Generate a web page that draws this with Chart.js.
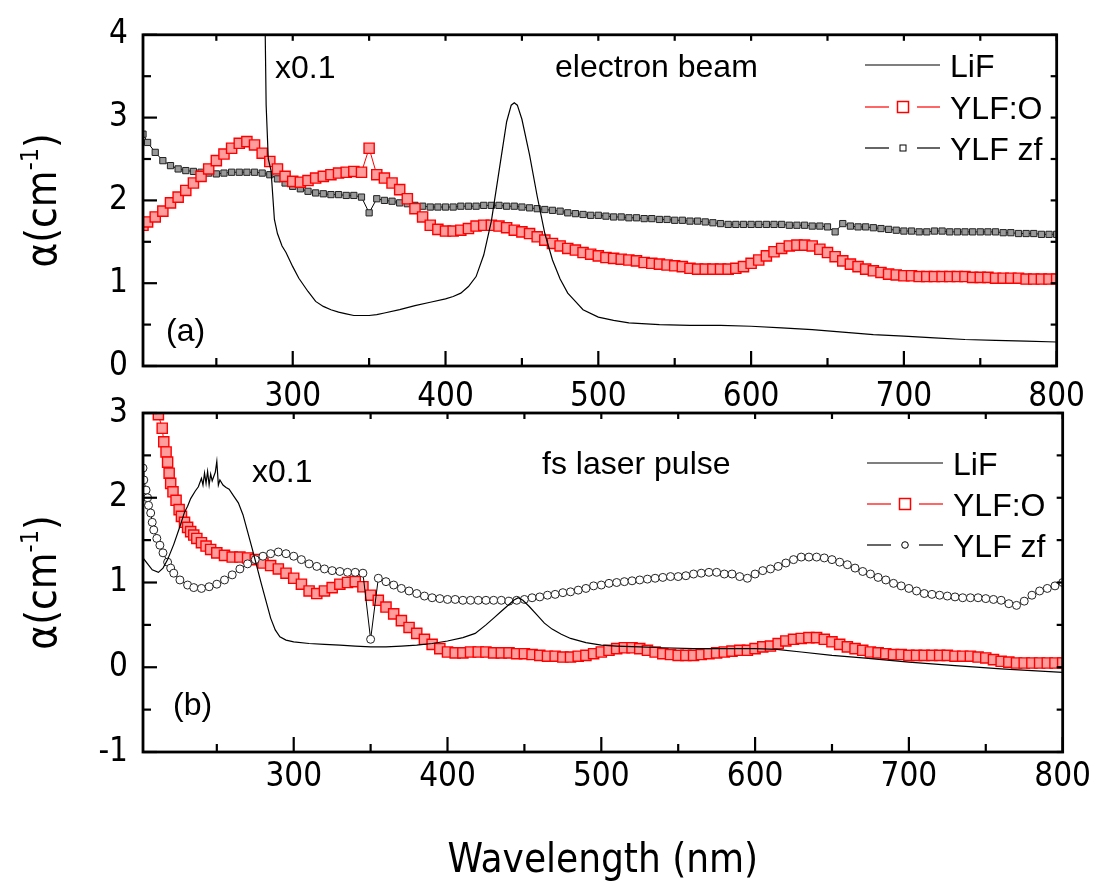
<!DOCTYPE html>
<html>
<head>
<meta charset="utf-8">
<script src="https://cdn.jsdelivr.net/npm/chart.js@4.4.1/dist/chart.umd.min.js"></script>
<style>
  body { margin: 0; background: #fff; }
  #wrap { position: relative; width: 1097px; height: 882px; }
  canvas { position: absolute; left: 0; top: 0; }
</style>
</head>
<body>
<div id="wrap">
  <canvas id="topChart" width="1097" height="882"></canvas>
  <canvas id="bottomChart" width="1097" height="882"></canvas>
</div>
<script>
// series names and axis ticks
const seriesNames = ['LiF', 'YLF:O', 'YLF zf'];
const xTicks = [300, 400, 500, 600, 700, 800];
const yTicksTop = [0, 1, 2, 3, 4];
const yTicksBottom = [-1, 0, 1, 2, 3];

// shared wavelength grid (nm)
const wl = [202,
  205,210,215,220,225,230,235,240,245,250,
  255,260,265,270,275,280,285,290,295,300,
  305,310,315,320,325,330,335,340,345,350,
  355,360,365,370,375,380,385,390,395,400,
  405,410,415,420,425,430,435,440,445,450,
  455,460,465,470,475,480,485,490,495,500,
  505,510,515,520,525,530,535,540,545,550,
  555,560,565,570,575,580,585,590,595,600,
  605,610,615,620,625,630,635,640,645,650,
  655,660,665,670,675,680,685,690,695,700,
  705,710,715,720,725,730,735,740,745,750,
  755,760,765,770,775,780,785,790,795,800];

// (a) electron beam
const topZfY = [2.80,
  2.70,2.58,2.48,2.42,2.38,2.36,2.35,2.34,2.33,2.32,
  2.33,2.34,2.34,2.34,2.34,2.33,2.31,2.26,2.21,2.17,
  2.14,2.11,2.09,2.08,2.07,2.07,2.06,2.06,2.04,1.85,
  2.02,2.00,1.99,1.97,1.96,1.94,1.93,1.92,1.92,1.92,
  1.92,1.93,1.93,1.93,1.94,1.94,1.94,1.93,1.93,1.92,
  1.91,1.90,1.89,1.88,1.87,1.85,1.84,1.83,1.82,1.82,
  1.81,1.80,1.80,1.79,1.79,1.78,1.78,1.77,1.77,1.76,
  1.76,1.75,1.75,1.74,1.73,1.72,1.71,1.71,1.71,1.71,
  1.71,1.71,1.71,1.71,1.70,1.70,1.70,1.69,1.69,1.68,
  1.62,1.72,1.69,1.68,1.68,1.67,1.66,1.65,1.64,1.63,
  1.63,1.62,1.62,1.63,1.63,1.62,1.62,1.62,1.62,1.62,
  1.62,1.62,1.61,1.61,1.60,1.60,1.60,1.59,1.59,1.59];

const topOY = [1.70,
  1.74,1.80,1.87,1.97,2.04,2.12,2.21,2.29,2.38,2.48,
  2.56,2.63,2.69,2.71,2.67,2.57,2.47,2.38,2.29,2.23,
  2.22,2.24,2.27,2.29,2.31,2.33,2.34,2.35,2.34,2.63,
  2.31,2.27,2.21,2.13,2.02,1.90,1.80,1.70,1.65,1.63,
  1.63,1.64,1.66,1.69,1.70,1.70,1.69,1.67,1.64,1.62,
  1.60,1.56,1.52,1.48,1.45,1.42,1.40,1.37,1.35,1.33,
  1.31,1.30,1.29,1.28,1.27,1.25,1.24,1.23,1.22,1.21,
  1.20,1.18,1.17,1.17,1.17,1.17,1.17,1.18,1.20,1.24,
  1.28,1.33,1.38,1.42,1.45,1.46,1.46,1.45,1.41,1.37,
  1.32,1.27,1.23,1.20,1.17,1.15,1.13,1.11,1.10,1.09,
  1.09,1.08,1.08,1.08,1.08,1.08,1.08,1.08,1.07,1.07,
  1.07,1.06,1.06,1.06,1.06,1.05,1.05,1.05,1.05,1.05];

const topLiFX = [281,282,282.6,284,285.8,288,290,293,295.6,300,
  304,310,315,320,325,330,335,340,345,350,
  355,360,370,380,390,400,405,410,415,420,
  425,430,435,440,443,445,447,450,455,460,
  465,470,475,480,485,490,500,510,520,540,
  560,580,600,620,640,660,680,700,720,740,
  760,780,800];
const topLiFY = [5.0,4.0,3.15,2.5,2.36,1.77,1.60,1.45,1.37,1.20,
  1.06,0.90,0.78,0.72,0.68,0.65,0.63,0.61,0.61,0.61,
  0.62,0.64,0.68,0.73,0.77,0.81,0.84,0.88,0.96,1.08,
  1.34,1.75,2.35,2.95,3.15,3.18,3.15,2.98,2.55,2.05,
  1.60,1.28,1.05,0.88,0.78,0.68,0.59,0.55,0.52,0.50,
  0.49,0.49,0.48,0.46,0.44,0.41,0.38,0.36,0.34,0.32,
  0.31,0.30,0.29];

// (b) fs laser pulse
const botOHeadX = [210,212,214.5,215.5,217,218,219,220,221.5,223.5,
  225.5,227,229,231,233,235,237,240,243,246];
const botOHeadY = [3.30,2.98,2.82,2.66,2.54,2.42,2.29,2.17,2.07,1.97,
  1.86,1.78,1.71,1.65,1.60,1.56,1.52,1.47,1.43,1.39];
const botOTailY = [
  1.35,1.32,1.30,1.30,1.29,1.27,1.23,1.20,1.16,1.11,
  1.05,0.98,0.90,0.87,0.90,0.94,0.98,1.00,1.01,0.95,
  0.85,0.79,0.71,0.63,0.55,0.47,0.40,0.33,0.27,0.22,
  0.18,0.17,0.17,0.18,0.18,0.18,0.17,0.17,0.17,0.16,
  0.16,0.15,0.14,0.13,0.13,0.12,0.12,0.13,0.14,0.16,
  0.18,0.20,0.22,0.23,0.23,0.22,0.20,0.18,0.16,0.15,
  0.14,0.14,0.14,0.15,0.16,0.17,0.18,0.19,0.20,0.20,
  0.22,0.24,0.25,0.28,0.31,0.33,0.34,0.35,0.35,0.33,
  0.30,0.27,0.24,0.22,0.20,0.18,0.17,0.16,0.15,0.15,
  0.14,0.14,0.14,0.14,0.14,0.14,0.13,0.13,0.13,0.12,
  0.11,0.09,0.07,0.06,0.05,0.05,0.05,0.05,0.05,0.05,
  0.05];

const botZfHeadX = [202,202.5,204,205,205.6,207,208,209,211,213,
  215,218,220,222,226,231];
const botZfHeadY = [2.35,2.21,2.09,2.00,1.91,1.82,1.71,1.62,1.52,1.44,
  1.35,1.24,1.17,1.11,1.03,0.97];
const botZfTailY = [
  0.94,0.93,0.95,0.98,1.03,1.09,1.16,1.22,1.27,1.31,
  1.34,1.36,1.34,1.31,1.27,1.22,1.19,1.16,1.14,1.13,
  1.12,1.12,1.11,0.33,1.05,1.01,0.97,0.93,0.90,0.87,
  0.84,0.82,0.81,0.80,0.80,0.79,0.79,0.79,0.79,0.79,
  0.79,0.78,0.79,0.80,0.82,0.83,0.85,0.86,0.88,0.89,
  0.91,0.93,0.96,0.97,0.99,1.00,1.01,1.02,1.03,1.04,
  1.05,1.06,1.07,1.07,1.08,1.10,1.11,1.12,1.12,1.10,
  1.10,1.07,1.05,1.10,1.14,1.16,1.19,1.23,1.27,1.30,
  1.30,1.30,1.29,1.27,1.24,1.21,1.17,1.13,1.10,1.06,
  1.03,0.99,0.96,0.93,0.90,0.87,0.86,0.85,0.84,0.83,
  0.82,0.82,0.82,0.81,0.80,0.79,0.75,0.73,0.78,0.85,
  0.90,0.93,0.96,1.00];

const botLiFX = [202,205,208,212,215,218,222,226,229,231,
  233,236,238,240,241,242,243,244,245,246,
  247,248,249,250,251,252,254,256,258,261,
  264,267,270,273,276,279,282,285,288,291,
  295,300,310,320,330,340,350,360,370,380,
  390,400,410,418,425,430,435,440,443,446,
  449,453,458,463,468,474,480,490,500,510,
  525,540,560,580,600,614,630,650,670,700,
  730,760,780,800];
const botLiFY = [1.29,1.22,1.15,1.12,1.17,1.27,1.45,1.66,1.83,1.90,
  1.99,2.08,2.13,2.23,2.15,2.29,2.17,2.31,2.15,2.28,
  2.20,2.25,2.30,2.43,2.15,2.21,2.15,2.12,2.10,2.02,
  1.94,1.80,1.60,1.40,1.19,0.98,0.78,0.58,0.44,0.36,
  0.32,0.30,0.28,0.27,0.26,0.25,0.24,0.24,0.25,0.26,
  0.28,0.31,0.35,0.40,0.50,0.58,0.66,0.74,0.79,0.82,
  0.79,0.72,0.62,0.52,0.45,0.39,0.34,0.29,0.26,0.25,
  0.24,0.23,0.22,0.22,0.22,0.21,0.18,0.14,0.11,0.06,
  0.02,-0.02,-0.04,-0.06];

const RED = '#ff0000';
const AREA_LEFT = 143, AREA_RIGHT = 1067;
const tickFont = { family: "'DejaVu Sans Condensed', 'DejaVu Sans', sans-serif", size: 33 };
const textFont = "32px 'Liberation Sans', Arial, sans-serif";

const pts = (xs, ys) => xs.map((x, i) => ({ x, y: ys[i] }));

const lifSet = (xs, ys) => ({
  label: seriesNames[0], data: pts(xs, ys),
  borderColor: '#000', borderWidth: 1.2, pointRadius: 0
});
// markers overlap into a band like the densely sampled original
const ylfOSet = (data) => ({
  label: seriesNames[1], data,
  borderColor: RED, borderWidth: 1, pointStyle: 'rect', pointRadius: 7.2,
  pointBorderColor: RED, pointBackgroundColor: '#ff9c9c', pointBorderWidth: 1.4
});
const zfSet = (data, style, r, fill) => ({
  label: seriesNames[2], data,
  borderColor: '#000', borderWidth: 1, pointStyle: style, pointRadius: r,
  pointBorderColor: '#222', pointBackgroundColor: fill, pointBorderWidth: 1
});

function line(ctx, x1, y1, x2, y2) {
  ctx.beginPath(); ctx.moveTo(x1, y1); ctx.lineTo(x2, y2); ctx.stroke();
}

// frame, inward ticks, titles, labels and legend
function decor(cfg) {
  return {
    id: 'decor',
    afterDraw(chart) {
      const { ctx, chartArea: a, scales: { x, y } } = chart;
      ctx.save();
      ctx.strokeStyle = '#000';
      ctx.lineWidth = 2.2;
      for (let v = 250; v <= 800; v += 50) {
        const px = x.getPixelForValue(v);
        line(ctx, px, a.bottom, px, a.bottom - (v % 100 === 0 ? 15 : 8));
        line(ctx, px, a.top, px, a.top + 6);
      }
      for (let v = cfg.yMin; v <= cfg.yMax; v += 0.5) {
        const py = y.getPixelForValue(v);
        line(ctx, a.left, py, a.left + (Number.isInteger(v) ? 14 : 8), py);
        line(ctx, a.right, py, a.right - 6, py);
      }
      ctx.lineWidth = 2.8;
      ctx.strokeRect(a.left, a.top, a.right - a.left, a.bottom - a.top);

      // y axis title alpha(cm^-1)
      ctx.save();
      ctx.translate(56, (a.top + a.bottom) / 2);
      ctx.rotate(-Math.PI / 2);
      ctx.fillStyle = '#000';
      ctx.textBaseline = 'alphabetic';
      const big = "42px 'DejaVu Sans Condensed', 'DejaVu Sans', sans-serif";
      const small = "25px 'DejaVu Sans Condensed', 'DejaVu Sans', sans-serif";
      ctx.font = big; const w1 = ctx.measureText('α(cm').width; const w3 = ctx.measureText(')').width;
      ctx.font = small; const w2 = ctx.measureText('-1').width;
      let sx = -(w1 + w2 + w3) / 2;
      ctx.font = big; ctx.fillText('α(cm', sx, 0); sx += w1;
      ctx.font = small; ctx.fillText('-1', sx, -18); sx += w2;
      ctx.font = big; ctx.fillText(')', sx, 0);
      ctx.restore();

      // annotations
      ctx.fillStyle = '#000';
      ctx.font = textFont;
      ctx.textAlign = 'left';
      ctx.textBaseline = 'alphabetic';
      cfg.notes.forEach(n => ctx.fillText(n.text, n.x, n.y));

      // legend
      const L = cfg.legend;
      L.rows.forEach((ry, i) => {
        const color = i === 1 ? RED : '#000';
        ctx.strokeStyle = color;
        ctx.lineWidth = 1.2;
        if (i === 0) {
          line(ctx, L.x1, ry, L.x2, ry);
        } else {
          line(ctx, L.x1, ry, L.mx - 14, ry);
          line(ctx, L.mx + 14, ry, L.x2, ry);
          ctx.fillStyle = '#fff';
          if (i === 1) {
            ctx.lineWidth = 1.5;
            ctx.fillRect(L.mx - 5.5, ry - 5.5, 11, 11);
            ctx.strokeRect(L.mx - 5.5, ry - 5.5, 11, 11);
          } else if (cfg.zfCircle) {
            ctx.lineWidth = 1;
            ctx.beginPath(); ctx.arc(L.mx, ry, 3.3, 0, Math.PI * 2); ctx.fill(); ctx.stroke();
          } else {
            ctx.lineWidth = 1;
            ctx.fillRect(L.mx - 3, ry - 3, 6, 6);
            ctx.strokeRect(L.mx - 3, ry - 3, 6, 6);
          }
        }
        ctx.fillStyle = '#000';
        ctx.fillText(seriesNames[i], L.tx, ry + 12);
      });

      if (cfg.xTitle) {
        ctx.font = "40px 'DejaVu Sans Condensed', 'DejaVu Sans', sans-serif";
        ctx.textAlign = 'center';
        ctx.fillText('Wavelength (nm)', (a.left + a.right) / 2, cfg.xTitleY);
      }
      ctx.restore();
    }
  };
}

function panel(id, datasets, cfg) {
  return new Chart(document.getElementById(id), {
    type: 'line',
    data: { datasets },
    options: {
      responsive: false,
      animation: false,
      devicePixelRatio: 1,
      layout: { padding: { left: 0, right: 1097 - AREA_RIGHT, top: cfg.top, bottom: 882 - cfg.bottom - 50 } },
      plugins: { legend: { display: false }, tooltip: { enabled: false } },
      elements: { line: { tension: 0 } },
      scales: {
        x: {
          type: 'linear', min: 202, max: 800,
          grid: { display: false, drawTicks: false },
          border: { display: false },
          afterBuildTicks: s => { s.ticks = xTicks.map(v => ({ value: v })); },
          afterFit: s => { s.height = 50; },
          ticks: { font: tickFont, color: '#000', padding: cfg.xPad, maxRotation: 0, autoSkip: false }
        },
        y: {
          type: 'linear', min: cfg.yMin, max: cfg.yMax,
          grid: { display: false, drawTicks: false },
          border: { display: false },
          afterBuildTicks: s => { s.ticks = cfg.yTicks.map(v => ({ value: v })); },
          afterFit: s => { s.width = AREA_LEFT; },
          ticks: { font: tickFont, color: '#000', padding: 15 }
        }
      }
    },
    plugins: [decor(cfg)]
  });
}

const botOX = botOHeadX.concat(wl.slice(wl.indexOf(250)));
const botZfX = botZfHeadX.concat(wl.slice(wl.indexOf(235)));

panel('topChart', [
  lifSet(topLiFX, topLiFY),
  ylfOSet(pts(wl, topOY)),
  zfSet(pts(wl, topZfY), 'rect', 4.4, '#9a9a9a')
], {
  top: 28, bottom: 366, yMin: 0, yMax: 4, yTicks: yTicksTop, xPad: 12,
  notes: [
    { text: 'x0.1', x: 275, y: 78 },
    { text: 'electron beam', x: 555, y: 77 },
    { text: '(a)', x: 166, y: 341 }
  ],
  legend: { rows: [65, 107, 148], x1: 865, x2: 940, mx: 903, tx: 950 },
  zfCircle: false
});

panel('bottomChart', [
  lifSet(botLiFX, botLiFY),
  zfSet(pts(botZfX, botZfHeadY.concat(botZfTailY)), 'circle', 4, '#fff'),
  ylfOSet(pts(botOX, botOHeadY.concat(botOTailY)))
], {
  top: 413, bottom: 752, yMin: -1, yMax: 3, yTicks: yTicksBottom, xPad: 6,
  notes: [
    { text: 'x0.1', x: 252, y: 482 },
    { text: 'fs laser pulse', x: 542, y: 474 },
    { text: '(b)', x: 173, y: 715 }
  ],
  legend: { rows: [463, 504, 545], x1: 867, x2: 943, mx: 905, tx: 953 },
  zfCircle: true,
  xTitle: true, xTitleY: 872
});
</script>
</body>
</html>
